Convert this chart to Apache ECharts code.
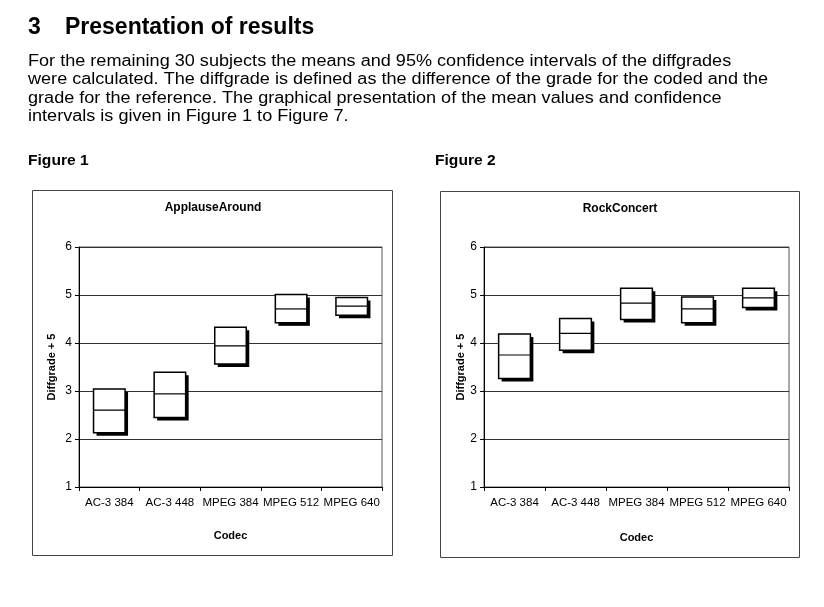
<!DOCTYPE html>
<html>
<head>
<meta charset="utf-8">
<script src="https://cdn.jsdelivr.net/npm/echarts@6/dist/echarts.min.js"></script>
<style>
html,body{margin:0;padding:0;background:#fff;}
#c{width:824px;height:607px;}
</style>
</head>
<body>
<div id="c"></div>
<script>
var categories = ['AC-3 384', 'AC-3 448', 'MPEG 384', 'MPEG 512', 'MPEG 640'];
var yTicks = [1, 2, 3, 4, 5, 6];
var applauseLower = [2.13, 2.45, 3.56, 4.42, 4.58];
var applauseMean  = [2.60, 2.94, 3.94, 4.71, 4.77];
var applauseUpper = [3.04, 3.39, 4.33, 5.01, 4.95];
var rockLower = [3.26, 3.85, 4.49, 4.42, 4.74];
var rockMean  = [3.75, 4.20, 4.83, 4.71, 4.94];
var rockUpper = [4.19, 4.51, 5.14, 4.96, 5.14];
var headingNumber = '3';
var headingText = 'Presentation of results';
var bodyLines = [
  'For the remaining 30 subjects the means and 95% confidence intervals of the diffgrades',
  'were calculated. The diffgrade is defined as the difference of the grade for the coded and the',
  'grade for the reference. The graphical presentation of the mean values and confidence',
  'intervals is given in Figure 1 to Figure 7.'
];
var figureLabels = ['Figure 1', 'Figure 2'];
var chartTitles = ['ApplauseAround', 'RockConcert'];
var xName = 'Codec';
var yName = 'Diffgrade + 5';

var FONT = '"Liberation Sans", Arial, Helvetica, sans-serif';

function buildData(lo, me, hi) {
  return categories.map(function (c, i) { return [i, lo[i], me[i], hi[i]]; });
}

function renderBox(params, api) {
  var x = api.value(0);
  var lo = api.value(1), me = api.value(2), hi = api.value(3);
  var pTop = api.coord([x, hi]);
  var pBot = api.coord([x, lo]);
  var pMe = api.coord([x, me]);
  var w = api.size([1, 0])[0] * 0.52;
  var left = pTop[0] - w / 2;
  var h = pBot[1] - pTop[1];
  return {
    type: 'group',
    children: [
      { type: 'rect', shape: { x: left + 3, y: pTop[1] + 3, width: w, height: h }, style: { fill: '#000' } },
      { type: 'rect', shape: { x: left, y: pTop[1], width: w, height: h }, style: { fill: '#fff', stroke: '#000', lineWidth: 1.5 } },
      { type: 'line', shape: { x1: left, y1: pMe[1], x2: left + w, y2: pMe[1] }, style: { stroke: '#000', lineWidth: 1.2 } }
    ]
  };
}

function xAxisCfg(gridIndex, gap) {
  return {
    type: 'category', gridIndex: gridIndex, data: categories,
    name: xName, nameLocation: 'middle', nameGap: gap,
    nameTextStyle: { fontFamily: FONT, fontSize: 11, fontWeight: 'bold', color: '#000' },
    axisLine: { lineStyle: { color: '#000', width: 1 } },
    axisTick: { show: true, length: 4, lineStyle: { color: '#000' } },
    axisLabel: { margin: 10, fontFamily: FONT, fontSize: 11.5, color: '#000', interval: 0 },
    splitLine: { show: false }
  };
}

function yAxisCfg(gridIndex, gap) {
  return {
    type: 'value', gridIndex: gridIndex, min: yTicks[0], max: yTicks[yTicks.length - 1], interval: 1,
    name: yName, nameLocation: 'middle', nameGap: gap, nameRotate: 90,
    nameTextStyle: { fontFamily: FONT, fontSize: 11, fontWeight: 'bold', color: '#000' },
    axisLine: { show: true, lineStyle: { color: '#000', width: 1 } },
    axisTick: { show: true, length: 4, lineStyle: { color: '#000' } },
    axisLabel: { margin: 7, fontFamily: FONT, fontSize: 12, color: '#000' },
    splitLine: { show: true, lineStyle: { color: '#333', width: 1 } }
  };
}

var graphics = [
  { type: 'rect', shape: { x: 32.5, y: 190.5, width: 360, height: 365 }, style: { fill: 'none', stroke: '#444', lineWidth: 1 }, z: -1 },
  { type: 'rect', shape: { x: 440.5, y: 191.5, width: 359, height: 366 }, style: { fill: 'none', stroke: '#444', lineWidth: 1 }, z: -1 },
  { type: 'text', x: 28, y: 27.7, style: { text: headingNumber, font: 'bold 23px ' + FONT, fill: '#000', textVerticalAlign: 'middle' } },
  { type: 'text', x: 65, y: 27.7, style: { text: headingText, font: 'bold 23px ' + FONT, fill: '#000', textVerticalAlign: 'middle' } },
  { type: 'text', x: 28, y: 160.5, scaleX: 1.04, style: { text: figureLabels[0], font: 'bold 15px ' + FONT, fill: '#000', textVerticalAlign: 'middle' } },
  { type: 'text', x: 435, y: 161, scaleX: 1.04, style: { text: figureLabels[1], font: 'bold 15px ' + FONT, fill: '#000', textVerticalAlign: 'middle' } },
  { type: 'text', x: 213, y: 208, style: { text: chartTitles[0], font: 'bold 12px ' + FONT, fill: '#000', textAlign: 'center', textVerticalAlign: 'middle' } },
  { type: 'text', x: 620, y: 209, style: { text: chartTitles[1], font: 'bold 12px ' + FONT, fill: '#000', textAlign: 'center', textVerticalAlign: 'middle' } }
];
bodyLines.forEach(function (t, i) {
  graphics.push({ type: 'text', x: 28, y: 61.3 + i * 18.4, scaleX: 1.13,
    style: { text: t, font: '16px ' + FONT, fill: '#000', textVerticalAlign: 'middle' } });
});

var chart = echarts.init(document.getElementById('c'), null, { renderer: 'canvas' });
chart.setOption({
  animation: false,
  backgroundColor: '#fff',
  grid: [
    { left: 79, top: 247, width: 303, height: 240, show: true, borderColor: '#555', borderWidth: 1, backgroundColor: 'transparent' },
    { left: 484, top: 247, width: 305, height: 240, show: true, borderColor: '#555', borderWidth: 1, backgroundColor: 'transparent' }
  ],
  xAxis: [xAxisCfg(0, 43), xAxisCfg(1, 45)],
  yAxis: [yAxisCfg(0, 22), yAxisCfg(1, 18)],
  graphic: graphics,
  series: [
    { type: 'custom', name: chartTitles[0], xAxisIndex: 0, yAxisIndex: 0, renderItem: renderBox,
      encode: { x: 0, y: [1, 2, 3] }, data: buildData(applauseLower, applauseMean, applauseUpper) },
    { type: 'custom', name: chartTitles[1], xAxisIndex: 1, yAxisIndex: 1, renderItem: renderBox,
      encode: { x: 0, y: [1, 2, 3] }, data: buildData(rockLower, rockMean, rockUpper) }
  ]
});
</script>
</body>
</html>
